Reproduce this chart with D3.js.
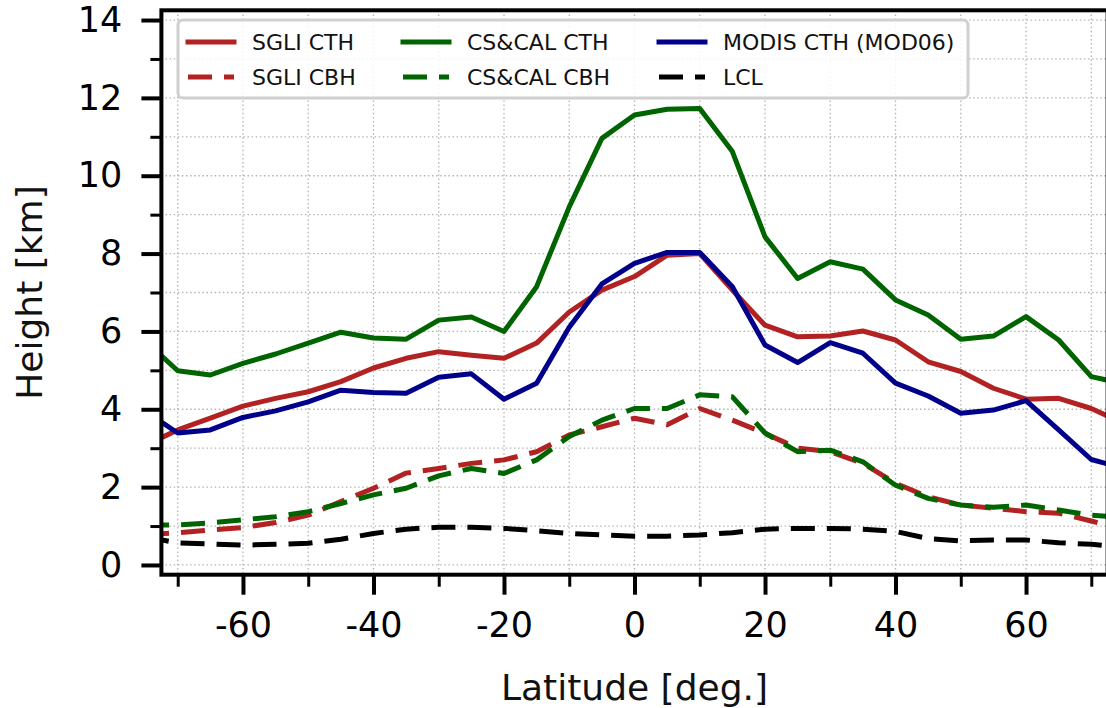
<!DOCTYPE html>
<html>
<head>
<meta charset="utf-8">
<script src="https://cdn.jsdelivr.net/npm/d3@7"></script>
<style>
  html, body { margin: 0; padding: 0; background: #fff; }
  svg { display: block; font-family: "DejaVu Sans", sans-serif; }
</style>
</head>
<body>
<svg id="chart" width="1106" height="708"></svg>
<script>
// ---- data ----
const latitudes = [-75,-70,-65,-60,-55,-50,-45,-40,-35,-30,-25,-20,-15,-10,-5,0,5,10,15,20,25,30,35,40,45,50,55,60,65,70,75];
const sgliCTH  = [3.07,3.47,3.77,4.08,4.28,4.45,4.71,5.06,5.31,5.48,5.39,5.31,5.70,6.50,7.06,7.41,7.96,8.00,7.06,6.16,5.86,5.88,6.01,5.78,5.22,4.97,4.54,4.26,4.28,4.02,3.64];
const csCTH    = [5.76,4.99,4.88,5.18,5.42,5.70,5.98,5.83,5.80,6.29,6.37,6.00,7.15,9.20,10.96,11.56,11.71,11.73,10.62,8.43,7.36,7.79,7.60,6.81,6.42,5.80,5.88,6.38,5.78,4.84,4.65];
const modisCTH = [3.95,3.39,3.47,3.79,3.96,4.19,4.49,4.43,4.41,4.82,4.91,4.26,4.67,6.11,7.22,7.75,8.03,8.03,7.15,5.65,5.20,5.71,5.44,4.67,4.34,3.90,3.98,4.22,3.47,2.71,2.48];
const sgliCBH  = [0.78,0.83,0.90,0.96,1.09,1.28,1.63,1.97,2.36,2.48,2.61,2.70,2.91,3.34,3.55,3.77,3.60,4.02,3.72,3.38,3.00,2.91,2.61,2.10,1.75,1.54,1.46,1.37,1.33,1.13,0.90];
const csCBH    = [1.03,1.03,1.08,1.16,1.24,1.37,1.58,1.80,1.97,2.29,2.48,2.35,2.70,3.30,3.72,4.02,4.02,4.37,4.32,3.39,2.91,2.95,2.65,2.05,1.71,1.54,1.48,1.54,1.41,1.28,1.22];
const lcl      = [0.72,0.57,0.54,0.51,0.53,0.56,0.66,0.81,0.92,0.97,0.97,0.94,0.88,0.81,0.77,0.74,0.74,0.77,0.83,0.92,0.94,0.94,0.92,0.86,0.68,0.62,0.64,0.64,0.57,0.53,0.45];

const seriesNames  = ["SGLI CTH","SGLI CBH","CS&CAL CTH","CS&CAL CBH","MODIS CTH (MOD06)","LCL"];
const seriesValues = [sgliCTH, sgliCBH, csCTH, csCBH, modisCTH, lcl];
const seriesColors = ["#b22222","#b22222","#006400","#006400","#00008b","#000000"];
const seriesDashed = [false,true,false,true,false,true];

const xMajorTicks = [-60,-40,-20,0,20,40,60];
const xMinorTicks = [-70,-50,-30,-10,10,30,50,70];
const yMajorTicks = [0,2,4,6,8,10,12,14];
const yMinorTicks = [1,3,5,7,9,11,13];

const xDomain = [-72.5, 72.5];
const yDomain = [-0.25, 14.25];

// ---- layout ----
const svg = d3.select("#chart");
const pL = 161.4, pR = 1107.6, pT = 10.3, pB = 574.7;
const DASH = "24,12";

const x = d3.scaleLinear().domain(xDomain).range([pL, pR]);
const y = d3.scaleLinear().domain(yDomain).range([pB, pT]);

svg.append("defs").append("clipPath").attr("id","clip")
  .append("rect").attr("x", pL).attr("y", pT).attr("width", pR-pL).attr("height", pB-pT);

// grid
const grid = svg.append("g");
const gridX = xMajorTicks.concat(xMinorTicks);
const gridY = yMajorTicks.concat(yMinorTicks);
grid.selectAll("line.gx").data(gridX).join("line")
  .attr("x1", d => x(d)).attr("x2", d => x(d)).attr("y1", pT).attr("y2", pB)
  .attr("stroke", "#b4b4b4").attr("stroke-width", 1.3).attr("stroke-dasharray", "1.5,2.6");
grid.selectAll("line.gy").data(gridY).join("line")
  .attr("y1", d => y(d)).attr("y2", d => y(d)).attr("x1", pL).attr("x2", pR)
  .attr("stroke", "#b4b4b4").attr("stroke-width", 1.3).attr("stroke-dasharray", "1.5,2.6");

// lines
const line = d3.line().x((d,i) => x(latitudes[i])).y(d => y(d));
const lines = svg.append("g").attr("clip-path", "url(#clip)");
seriesValues.forEach((vals, k) => {
  lines.append("path").datum(vals)
    .attr("d", line)
    .attr("fill", "none")
    .attr("stroke", seriesColors[k])
    .attr("stroke-width", 5)
    .attr("stroke-linejoin", "round")
    .attr("stroke-dasharray", seriesDashed[k] ? DASH : null);
});

// axes
const xAxisMajor = d3.axisBottom(x).tickValues(xMajorTicks).tickSize(20).tickPadding(17).tickFormat(d => String(d));
const xAxisMinor = d3.axisBottom(x).tickValues(xMinorTicks).tickSize(12).tickFormat("");
const yAxisMajor = d3.axisLeft(y).tickValues(yMajorTicks).tickSize(20).tickPadding(19).tickFormat(d => String(d));
const yAxisMinor = d3.axisLeft(y).tickValues(yMinorTicks).tickSize(11).tickFormat("");

function styleAxis(g, w) {
  g.select(".domain").remove();
  g.selectAll(".tick line").attr("stroke", "#000").attr("stroke-width", w);
  g.selectAll(".tick text").attr("fill", "#000").attr("font-size", 35).attr("font-family", "DejaVu Sans");
}
svg.append("g").attr("transform", `translate(0,${pB})`).call(xAxisMinor).call(g => styleAxis(g, 3));
svg.append("g").attr("transform", `translate(0,${pB})`).call(xAxisMajor).call(g => styleAxis(g, 4));
svg.append("g").attr("transform", `translate(${pL},0)`).call(yAxisMinor).call(g => styleAxis(g, 3));
svg.append("g").attr("transform", `translate(${pL},0)`).call(yAxisMajor).call(g => styleAxis(g, 4));

// spines
svg.append("rect").attr("x", pL).attr("y", pT).attr("width", pR-pL).attr("height", pB-pT)
  .attr("fill", "none").attr("stroke", "#000").attr("stroke-width", 4);

// axis labels
svg.append("text").attr("x", (x(xDomain[0])+x(xDomain[1]))/2).attr("y", 700)
  .attr("text-anchor", "middle").attr("font-size", 36).attr("fill", "#111").text("Latitude [deg.]");
svg.append("text").attr("transform", `translate(42,${(pT+pB)/2}) rotate(-90)`)
  .attr("text-anchor", "middle").attr("font-size", 36).attr("fill", "#111").text("Height [km]");

// legend
const leg = svg.append("g");
leg.append("rect").attr("x", 178).attr("y", 20).attr("width", 790).attr("height", 78)
  .attr("rx", 5).attr("fill", "#fff").attr("fill-opacity", 0.85)
  .attr("stroke", "#d0d0d0").attr("stroke-width", 3);
const colX = [188, 403, 659];
const rowY = [42, 77];
seriesNames.forEach((name, k) => {
  const col = Math.floor(k / 2), row = k % 2;
  const g = leg.append("g").attr("transform", `translate(${colX[col]},${rowY[row]})`);
  g.append("line").attr("x1", 0).attr("x2", 46).attr("y1", 0).attr("y2", 0)
    .attr("stroke", seriesColors[k]).attr("stroke-width", 5)
    .attr("stroke-linecap", seriesDashed[k] ? "butt" : "square")
    .attr("stroke-dasharray", seriesDashed[k] ? DASH : null);
  g.append("text").attr("x", 64).attr("y", 0).attr("dy", "0.35em")
    .attr("font-size", 22).attr("fill", "#111").text(name);
});
</script>
</body>
</html>
